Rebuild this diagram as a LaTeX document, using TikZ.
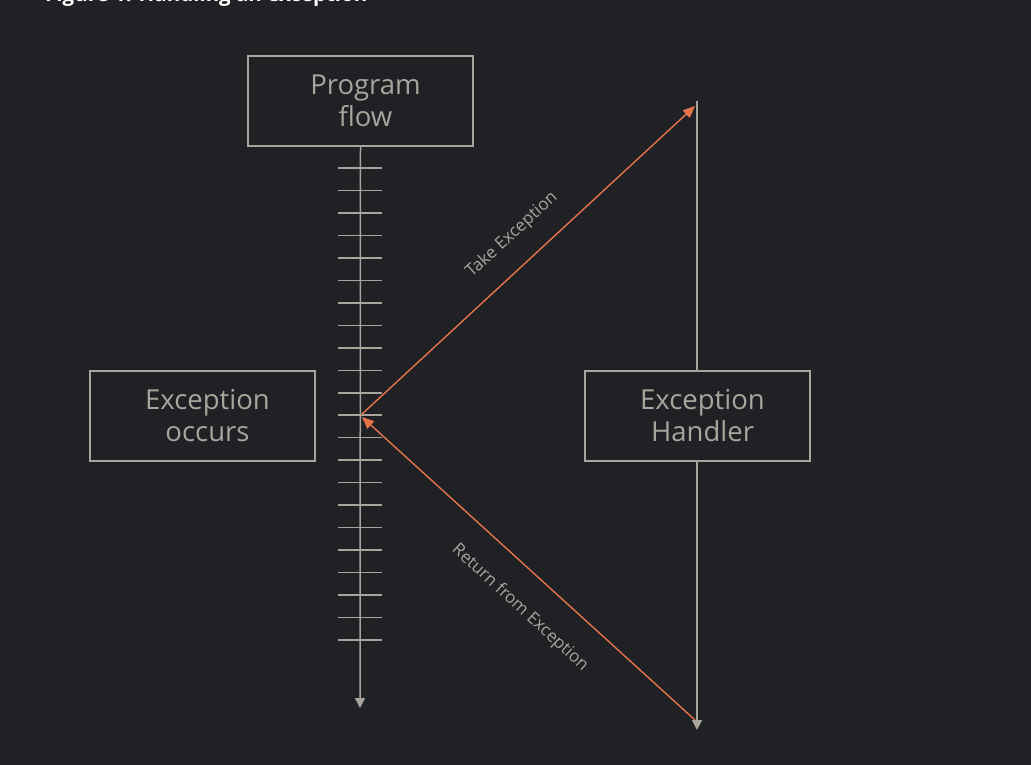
\documentclass[tikz,border=0pt]{standalone}
\usepackage{fontspec}
\setmainfont{Open Sans}
\usetikzlibrary{arrows.meta}
\definecolor{bg}{HTML}{202124}
\definecolor{fg}{HTML}{A9A49C}
\definecolor{org}{HTML}{E5734C}
\newcommand{\sh}{\hspace*{10pt}}
\begin{document}
\begin{tikzpicture}[x=1pt,y=-1pt,
  box/.style={draw=fg,line width=1.5pt,fill=bg,minimum width=225pt,minimum height=90pt,
    text=fg,font=\fontsize{27.5}{32}\selectfont,align=center,inner sep=0pt},
  gline/.style={draw=fg,line width=1.5pt},
  garrow/.style={gline,-{Triangle[length=10pt,width=10pt]}},
  oarrow/.style={draw=org,line width=1.4pt,-{Triangle[length=12pt,width=10pt]}},
  lbl/.style={text=fg,font=\fontsize{17}{20}\selectfont,inner sep=0pt}]
\useasboundingbox (0,0) rectangle (1031,765);
\clip (0,0) rectangle (1031,765);
\fill[bg] (0,0) rectangle (1031,765);
\node[anchor=base west,text=white,font=\fontsize{20.5}{24}\selectfont\bfseries,inner sep=0pt] (title) at (45,1.2) {Figure 1. Handling an exception};
% program flow
\node[box] (pf) at (360.5,101) {\sh Program\\\sh flow};
\coordinate (mend) at (360,708);
\draw[garrow] (pf.south) -- (mend);
\foreach \i in {0,...,21} {
  \draw[gline] (338,168+22.476*\i) -- (382,168+22.476*\i);
}
\coordinate (ex) at (361,415);
\node[box] (eo) at (202.5,416) {\sh Exception\\\sh occurs};
% handler
\coordinate (htop) at (697,101);
\coordinate (hbot) at (697,730);
\draw[garrow] (htop) -- (hbot);
\node[box] (eh) at (697.5,416) {\sh Exception\\\sh Handler};
% orange arrows
\coordinate (tkend) at (695,106);
\coordinate (rtstart) at (695,720);
\draw[oarrow] (ex) -- (tkend);
\draw[oarrow] (rtstart) -- (362,417);
\node[lbl,rotate=42.6] (tl) at (512,235) {Take Exception};
\node[lbl,rotate=-42.6] (rl) at (520,608) {Return from Exception};
\end{tikzpicture}
\end{document}
